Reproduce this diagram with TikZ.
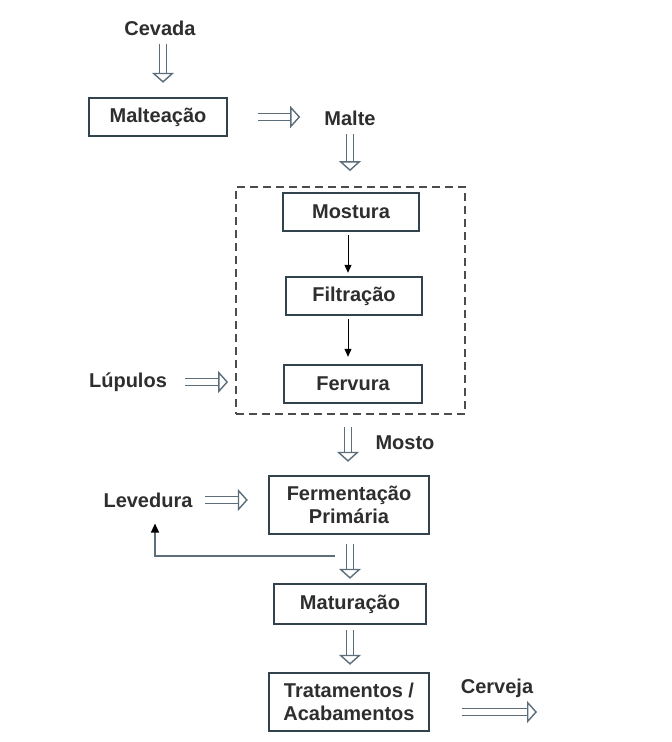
\documentclass[tikz,border=0pt]{standalone}
\usepackage{fontspec}
\setmainfont{Liberation Sans}
\usetikzlibrary{arrows.meta}
\definecolor{boxcol}{HTML}{33434D}
\definecolor{txtcol}{HTML}{2E2E2E}
\definecolor{hollowcol}{HTML}{5B6E7A}
\tikzset{
  etapa/.style={draw=boxcol, line width=2.4pt, text=txtcol, align=center,
    font=\bfseries\fontsize{20}{23}\selectfont, inner sep=0pt},
  rotulo/.style={text=txtcol, font=\bfseries\fontsize{20}{23}\selectfont, inner sep=2pt},
  hollow/.style={draw=hollowcol, line width=1.4pt, double=white, double distance=5.5pt,
    -{Triangle[open, length=10pt, width=22pt]}},
  seta/.style={black, line width=1pt, -{Triangle[length=8pt, width=7pt]}}
}
\begin{document}
\begin{tikzpicture}[x=1pt,y=-1pt]
 \useasboundingbox[fill=white] (0,0) rectangle (672,742);
 % materias-primas e produtos
 \node[rotulo] (cevada) at (160,28) {Cevada};
 \node[rotulo] (malte) at (350,118) {Malte};
 \node[rotulo] (lupulos) at (128,382) {Lúpulos};
 \node[rotulo] (levedura) at (148,500) {Levedura};
 \node[rotulo] (mosto) at (405,443) {Mosto};
 \node[rotulo] (cerveja) at (497,688) {Cerveja};
 % etapas
 \node[etapa, minimum width=138pt, minimum height=38pt] (malteacao) at (158,117) {Malteação};
 \node[draw=black!70, line width=1.8pt, dash pattern=on 8pt off 5pt,
   minimum width=229pt, minimum height=227pt] (brassagem) at (350.5,300.5) {};
 \node[etapa, minimum width=136pt, minimum height=38pt] (mostura) at (351,212) {Mostura};
 \node[etapa, minimum width=136pt, minimum height=38pt] (filtracao) at (354,296) {Filtração};
 \node[etapa, minimum width=138pt, minimum height=38pt] (fervura) at (353,384) {Fervura};
 \node[etapa, minimum width=160pt, minimum height=58pt] (fermentacao) at (349,505) {Fermentação\\Primária};
 \node[etapa, minimum width=152pt, minimum height=40pt] (maturacao) at (350,604) {Maturação};
 \node[etapa, minimum width=160pt, minimum height=58pt] (tratamentos) at (349,702) {Tratamentos /\\Acabamentos};
 \coordinate (saida) at (537,712);
 \coordinate (retorno) at (335,556);
 % setas
 \draw[hollow, shorten <=6pt, shorten >=14pt] (cevada.south -| 163,0) -- (malteacao.north -| 163,0);
 \draw[hollow, shorten <=30pt, shorten >=22pt] (malteacao.east) -- (malteacao.east -| malte.west);
 \draw[hollow, shorten <=6pt, shorten >=15pt] (malte.south) -- (malte.south |- brassagem.north);
 \draw[seta, shorten <=3pt, shorten >=3pt] (mostura.south -| 348,0) -- (filtracao.north -| 348,0);
 \draw[seta, shorten <=3pt, shorten >=7pt] (filtracao.south -| 348,0) -- (fervura.north -| 348,0);
 \draw[hollow, shorten <=16pt, shorten >=7pt] (lupulos.east) -- (lupulos.east -| brassagem.west);
 \draw[hollow, shorten <=12pt, shorten >=13pt] (brassagem.south -| 348,0) -- (fermentacao.north -| 348,0);
 \draw[hollow, shorten <=10pt, shorten >=20pt] (levedura.east) -- (levedura.east -| fermentacao.west);
 \draw[hollow, shorten <=9pt, shorten >=4pt] (fermentacao.south -| 350,0) -- (maturacao.north -| 350,0);
 \draw[hollow, shorten <=5pt, shorten >=7pt] (maturacao.south -| 350,0) -- (tratamentos.north -| 350,0);
 \draw[hollow, shorten <=32pt] (tratamentos.east |- saida) -- (saida);
 \draw[hollowcol, line width=1.2pt, -{Triangle[length=9pt, width=8pt, black]}, shorten >=14pt]
   (retorno) -| (levedura.south -| 155,0);
\end{tikzpicture}
\end{document}
